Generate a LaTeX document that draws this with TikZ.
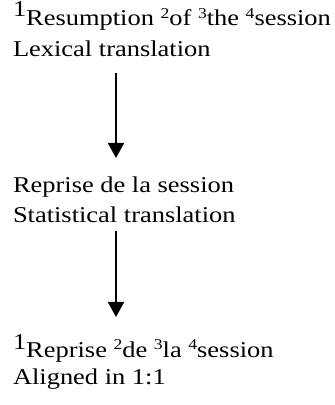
\documentclass[tikz,border=0pt]{standalone}
\usepackage{fontspec}
\setmainfont{Liberation Serif}[FakeStretch=1.17]
\usetikzlibrary{arrows.meta}

% small raised word index, and the full-size raised leading index
\newcommand{\wnum}[1]{\raisebox{7pt}{\fontsize{15}{15}\selectfont #1}}
\newcommand{\bignum}[2]{\raisebox{#1}{#2}}

\begin{document}
\begin{tikzpicture}[x=1pt,y=1pt,
  line/.style={anchor=base west, inner sep=0pt, outer sep=0pt,
               font=\fontsize{22.6}{30}\selectfont},
  flow/.style={line width=1.8pt, -{Triangle[width=16pt,length=15pt]}}]
  \useasboundingbox (0,0) rectangle (335,405);

  % source sentence and first step
  \node[line] (l1) at (13,379) {\bignum{9.5pt}{1}Resumption \wnum{2}of \wnum{3}the \wnum{4}session};
  \node[line] (l2) at (13,348) {Lexical translation};

  % word-by-word result and second step
  \node[line] (l3) at (13,212) {Reprise de la session};
  \node[line] (l4) at (13,182) {Statistical translation};

  % aligned output
  \node[line] (l5) at (13,48) {\bignum{7pt}{1}Reprise \wnum{2}de \wnum{3}la \wnum{4}session};
  \node[line] (l6) at (13,20) {Aligned in 1:1};

  \coordinate (a1s) at (116,332);
  \coordinate (a1e) at (116,247);
  \coordinate (a2s) at (116,174);
  \coordinate (a2e) at (116,88);

  \draw[flow] (a1s) -- (a1e);
  \draw[flow] (a2s) -- (a2e);
\end{tikzpicture}
\end{document}
